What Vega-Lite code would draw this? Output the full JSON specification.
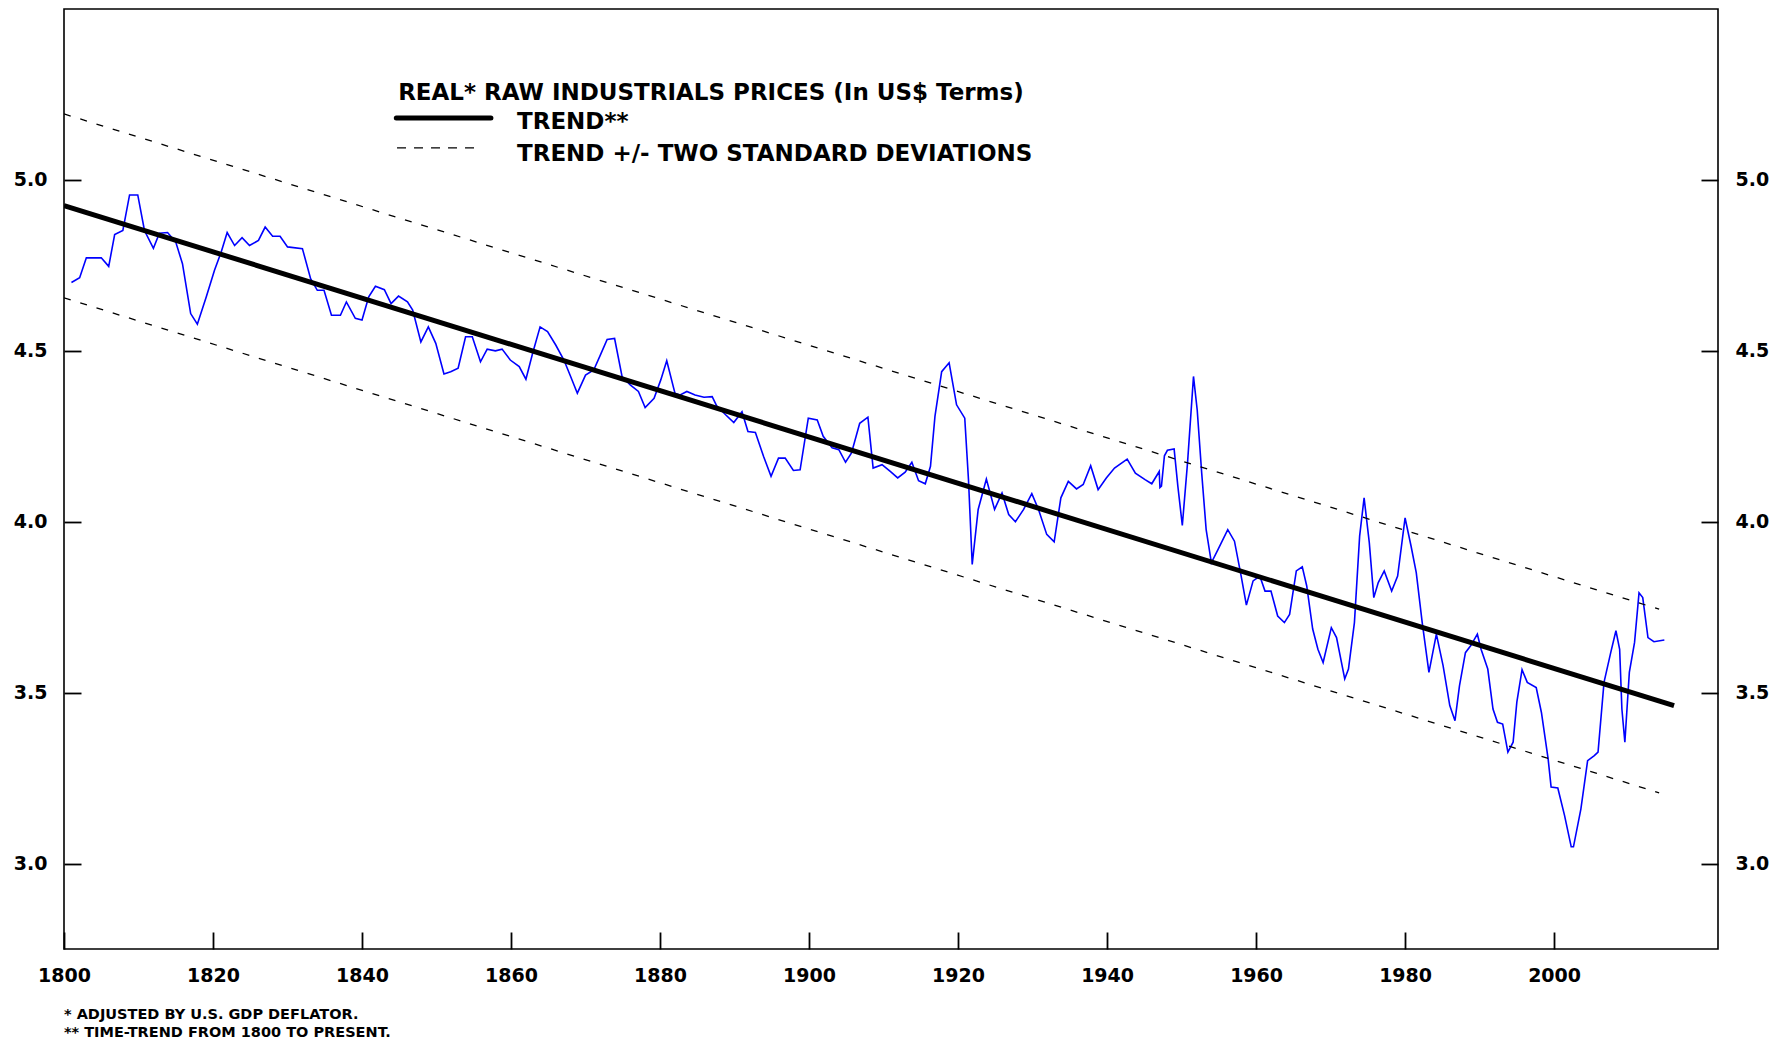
{
  "$schema": "https://vega.github.io/schema/vega-lite/v6.json",
  "width": 1654,
  "height": 940,
  "autosize": {"type": "none"},
  "padding": {"left": 64, "top": 9, "right": 62, "bottom": 92},
  "background": "white",
  "config": {
    "view": {"stroke": "black", "strokeWidth": 1.6},
    "axis": {"domain": false, "grid": false, "ticks": true, "tickSize": 17, "tickWidth": 1.8, "tickColor": "#000000", "tickOpacity": 1, "offset": -17, "labelPadding": 17, "labelFlush": false, "labelFont": "DejaVu Sans", "labelFontWeight": "bold", "labelFontSize": 19, "labelColor": "black", "zindex": 1}
  },
  "title": {
    "text": ["* ADJUSTED BY U.S. GDP DEFLATOR.", "** TIME-TREND FROM 1800 TO PRESENT."],
    "orient": "bottom",
    "anchor": "start",
    "frame": "group",
    "font": "DejaVu Sans",
    "fontSize": 14.5,
    "fontWeight": "bold",
    "color": "black",
    "lineHeight": 17.5,
    "offset": 23
  },
  "datasets": {
    "price": [
      {"year": 1801.0, "value": 4.700}, {"year": 1802.1, "value": 4.714}, {"year": 1803.0, "value": 4.772}, {"year": 1803.9, "value": 4.772},
      {"year": 1805.0, "value": 4.772}, {"year": 1806.0, "value": 4.747}, {"year": 1806.8, "value": 4.840}, {"year": 1807.9, "value": 4.852},
      {"year": 1808.8, "value": 4.956}, {"year": 1809.9, "value": 4.956}, {"year": 1810.8, "value": 4.852}, {"year": 1812.0, "value": 4.800},
      {"year": 1812.8, "value": 4.844}, {"year": 1813.9, "value": 4.846}, {"year": 1815.0, "value": 4.818}, {"year": 1815.9, "value": 4.755},
      {"year": 1817.0, "value": 4.609}, {"year": 1817.9, "value": 4.578}, {"year": 1819.1, "value": 4.658}, {"year": 1820.2, "value": 4.736},
      {"year": 1821.1, "value": 4.789}, {"year": 1821.9, "value": 4.846}, {"year": 1822.9, "value": 4.808}, {"year": 1823.9, "value": 4.831},
      {"year": 1824.9, "value": 4.808}, {"year": 1826.1, "value": 4.823}, {"year": 1827.0, "value": 4.862}, {"year": 1828.0, "value": 4.835},
      {"year": 1829.0, "value": 4.835}, {"year": 1830.0, "value": 4.804}, {"year": 1832.0, "value": 4.799}, {"year": 1833.1, "value": 4.711},
      {"year": 1834.0, "value": 4.677}, {"year": 1834.9, "value": 4.677}, {"year": 1835.9, "value": 4.604}, {"year": 1837.1, "value": 4.604},
      {"year": 1837.9, "value": 4.643}, {"year": 1839.1, "value": 4.595}, {"year": 1840.0, "value": 4.590}, {"year": 1840.9, "value": 4.658},
      {"year": 1841.8, "value": 4.689}, {"year": 1843.0, "value": 4.679}, {"year": 1843.9, "value": 4.638}, {"year": 1844.9, "value": 4.660},
      {"year": 1846.1, "value": 4.643}, {"year": 1846.8, "value": 4.619}, {"year": 1847.9, "value": 4.526}, {"year": 1848.9, "value": 4.570},
      {"year": 1849.9, "value": 4.522}, {"year": 1851.0, "value": 4.432}, {"year": 1851.9, "value": 4.439}, {"year": 1852.9, "value": 4.449},
      {"year": 1853.9, "value": 4.541}, {"year": 1854.8, "value": 4.541}, {"year": 1855.9, "value": 4.468}, {"year": 1856.8, "value": 4.505},
      {"year": 1857.9, "value": 4.500}, {"year": 1858.8, "value": 4.505}, {"year": 1859.9, "value": 4.473}, {"year": 1861.1, "value": 4.454},
      {"year": 1862.0, "value": 4.417}, {"year": 1862.9, "value": 4.493}, {"year": 1863.9, "value": 4.570}, {"year": 1864.9, "value": 4.556},
      {"year": 1866.0, "value": 4.517}, {"year": 1867.1, "value": 4.473}, {"year": 1868.0, "value": 4.425}, {"year": 1868.9, "value": 4.376},
      {"year": 1870.0, "value": 4.429}, {"year": 1871.1, "value": 4.444}, {"year": 1872.0, "value": 4.488}, {"year": 1872.9, "value": 4.533},
      {"year": 1873.9, "value": 4.536}, {"year": 1874.9, "value": 4.425}, {"year": 1876.0, "value": 4.400}, {"year": 1877.1, "value": 4.381},
      {"year": 1878.0, "value": 4.334}, {"year": 1879.2, "value": 4.361}, {"year": 1880.1, "value": 4.415}, {"year": 1880.9, "value": 4.471},
      {"year": 1882.0, "value": 4.376}, {"year": 1882.7, "value": 4.371}, {"year": 1883.6, "value": 4.381}, {"year": 1884.7, "value": 4.371},
      {"year": 1885.9, "value": 4.364}, {"year": 1887.0, "value": 4.366}, {"year": 1887.6, "value": 4.339}, {"year": 1888.8, "value": 4.313},
      {"year": 1889.9, "value": 4.290}, {"year": 1891.0, "value": 4.322}, {"year": 1891.8, "value": 4.264}, {"year": 1892.8, "value": 4.261},
      {"year": 1893.9, "value": 4.191}, {"year": 1894.9, "value": 4.133}, {"year": 1895.9, "value": 4.186}, {"year": 1896.8, "value": 4.186},
      {"year": 1897.9, "value": 4.150}, {"year": 1898.8, "value": 4.152}, {"year": 1899.9, "value": 4.303}, {"year": 1901.1, "value": 4.298},
      {"year": 1901.9, "value": 4.250}, {"year": 1903.1, "value": 4.216}, {"year": 1904.0, "value": 4.211}, {"year": 1904.9, "value": 4.174},
      {"year": 1905.7, "value": 4.201}, {"year": 1906.8, "value": 4.288}, {"year": 1907.9, "value": 4.306}, {"year": 1908.6, "value": 4.157},
      {"year": 1909.8, "value": 4.167}, {"year": 1910.9, "value": 4.147}, {"year": 1911.9, "value": 4.128}, {"year": 1912.9, "value": 4.145},
      {"year": 1913.8, "value": 4.174}, {"year": 1914.7, "value": 4.120}, {"year": 1915.6, "value": 4.111}, {"year": 1916.3, "value": 4.162},
      {"year": 1916.9, "value": 4.308}, {"year": 1917.8, "value": 4.439}, {"year": 1918.8, "value": 4.465}, {"year": 1919.8, "value": 4.342},
      {"year": 1920.9, "value": 4.303}, {"year": 1921.4, "value": 4.123}, {"year": 1921.9, "value": 3.875}, {"year": 1922.7, "value": 4.036},
      {"year": 1923.8, "value": 4.125}, {"year": 1924.9, "value": 4.036}, {"year": 1925.9, "value": 4.084}, {"year": 1926.8, "value": 4.021},
      {"year": 1927.7, "value": 4.000}, {"year": 1928.8, "value": 4.036}, {"year": 1929.9, "value": 4.082}, {"year": 1930.8, "value": 4.036},
      {"year": 1931.9, "value": 3.963}, {"year": 1932.9, "value": 3.941}, {"year": 1933.8, "value": 4.070}, {"year": 1934.8, "value": 4.118},
      {"year": 1935.9, "value": 4.096}, {"year": 1936.8, "value": 4.109}, {"year": 1937.8, "value": 4.164}, {"year": 1938.8, "value": 4.094},
      {"year": 1939.9, "value": 4.128}, {"year": 1941.0, "value": 4.157}, {"year": 1942.7, "value": 4.183}, {"year": 1943.8, "value": 4.142},
      {"year": 1945.1, "value": 4.123}, {"year": 1946.0, "value": 4.111}, {"year": 1947.0, "value": 4.147}, {"year": 1947.1, "value": 4.100},
      {"year": 1947.3, "value": 4.104}, {"year": 1947.7, "value": 4.193}, {"year": 1948.1, "value": 4.209}, {"year": 1949.0, "value": 4.213},
      {"year": 1949.5, "value": 4.104}, {"year": 1950.1, "value": 3.989}, {"year": 1950.8, "value": 4.172}, {"year": 1951.6, "value": 4.425},
      {"year": 1952.1, "value": 4.327}, {"year": 1952.7, "value": 4.143}, {"year": 1953.3, "value": 3.977}, {"year": 1954.0, "value": 3.880},
      {"year": 1954.9, "value": 3.919}, {"year": 1956.2, "value": 3.977}, {"year": 1957.1, "value": 3.943}, {"year": 1958.0, "value": 3.841},
      {"year": 1958.7, "value": 3.756}, {"year": 1959.6, "value": 3.827}, {"year": 1960.5, "value": 3.841}, {"year": 1961.2, "value": 3.797},
      {"year": 1962.0, "value": 3.797}, {"year": 1962.9, "value": 3.724}, {"year": 1963.8, "value": 3.705}, {"year": 1964.5, "value": 3.729},
      {"year": 1965.4, "value": 3.856}, {"year": 1966.2, "value": 3.868}, {"year": 1966.8, "value": 3.812}, {"year": 1967.6, "value": 3.686},
      {"year": 1968.3, "value": 3.627}, {"year": 1969.0, "value": 3.588}, {"year": 1970.1, "value": 3.690}, {"year": 1970.8, "value": 3.661},
      {"year": 1971.9, "value": 3.540}, {"year": 1972.4, "value": 3.569}, {"year": 1973.2, "value": 3.705}, {"year": 1973.9, "value": 3.958},
      {"year": 1974.5, "value": 4.070}, {"year": 1975.2, "value": 3.938}, {"year": 1975.8, "value": 3.778}, {"year": 1976.4, "value": 3.822},
      {"year": 1977.2, "value": 3.856}, {"year": 1978.2, "value": 3.797}, {"year": 1979.0, "value": 3.841}, {"year": 1980.0, "value": 4.011},
      {"year": 1980.8, "value": 3.929}, {"year": 1981.5, "value": 3.851}, {"year": 1982.3, "value": 3.705}, {"year": 1983.2, "value": 3.559},
      {"year": 1984.2, "value": 3.671}, {"year": 1985.1, "value": 3.579}, {"year": 1986.0, "value": 3.462}, {"year": 1986.7, "value": 3.418},
      {"year": 1987.3, "value": 3.520}, {"year": 1988.1, "value": 3.617}, {"year": 1988.8, "value": 3.637}, {"year": 1989.7, "value": 3.671},
      {"year": 1990.2, "value": 3.627}, {"year": 1991.1, "value": 3.569}, {"year": 1991.8, "value": 3.452}, {"year": 1992.4, "value": 3.413},
      {"year": 1993.1, "value": 3.408}, {"year": 1993.8, "value": 3.326}, {"year": 1994.5, "value": 3.355}, {"year": 1995.0, "value": 3.472},
      {"year": 1995.7, "value": 3.567}, {"year": 1996.4, "value": 3.530}, {"year": 1997.6, "value": 3.515}, {"year": 1998.3, "value": 3.442},
      {"year": 1999.2, "value": 3.306}, {"year": 1999.6, "value": 3.224}, {"year": 2000.5, "value": 3.221}, {"year": 2001.4, "value": 3.141},
      {"year": 2002.3, "value": 3.049}, {"year": 2002.6, "value": 3.049}, {"year": 2003.6, "value": 3.160}, {"year": 2004.5, "value": 3.301},
      {"year": 2005.4, "value": 3.316}, {"year": 2005.9, "value": 3.326}, {"year": 2006.7, "value": 3.530}, {"year": 2007.6, "value": 3.617},
      {"year": 2008.3, "value": 3.681}, {"year": 2008.8, "value": 3.627}, {"year": 2009.1, "value": 3.452}, {"year": 2009.5, "value": 3.355},
      {"year": 2010.1, "value": 3.559}, {"year": 2010.8, "value": 3.647}, {"year": 2011.4, "value": 3.792}, {"year": 2011.9, "value": 3.778},
      {"year": 2012.6, "value": 3.661}, {"year": 2013.4, "value": 3.649}, {"year": 2014.8, "value": 3.654}
    ],
    "trend": [
      {"year": 1800, "value": 4.925},
      {"year": 2016.1, "value": 3.462}
    ],
    "bands": [
      {"band": "upper", "year": 1800, "value": 5.193},
      {"band": "upper", "year": 2014.1, "value": 3.744},
      {"band": "lower", "year": 1800, "value": 4.655},
      {"band": "lower", "year": 2014.1, "value": 3.207}
    ],
    "legendSolid": [
      {"year": 1844.6, "value": 5.181},
      {"year": 1857.3, "value": 5.181}
    ],
    "legendDash": [
      {"year": 1844.7, "value": 5.094},
      {"year": 1856.0, "value": 5.094}
    ],
    "labels": [
      {"year": 1844.85, "value": 5.2337, "label": "REAL* RAW INDUSTRIALS PRICES (In US$ Terms)"},
      {"year": 1860.8, "value": 5.149, "label": "TREND**"},
      {"year": 1860.8, "value": 5.0566, "label": "TREND +/- TWO STANDARD DEVIATIONS"}
    ]
  },
  "layer": [
    {
      "data": {"name": "price"},
      "mark": {"type": "line", "color": "#0000FF", "strokeWidth": 1.6, "clip": true},
      "encoding": {
        "x": {"field": "year", "type": "quantitative", "scale": {"domain": [1800, 2022], "nice": false, "zero": false},
              "axis": {"values": [1800, 1820, 1840, 1860, 1880, 1900, 1920, 1940, 1960, 1980, 2000], "format": "d", "title": null}},
        "y": {"field": "value", "type": "quantitative", "scale": {"domain": [2.75, 5.5], "nice": false, "zero": false},
              "axis": {"orient": "left", "values": [3.0, 3.5, 4.0, 4.5, 5.0], "format": ".1f", "title": null}}
      }
    },
    {
      "data": {"name": "bands"},
      "mark": {"type": "line", "color": "black", "strokeWidth": 1.3, "strokeDash": [7, 10], "clip": true},
      "encoding": {
        "x": {"field": "year", "type": "quantitative", "scale": {"domain": [1800, 2022], "nice": false, "zero": false},
              "axis": {"values": [1800, 1820, 1840, 1860, 1880, 1900, 1920, 1940, 1960, 1980, 2000], "format": "d", "title": null}},
        "y": {"field": "value", "type": "quantitative", "scale": {"domain": [2.75, 5.5], "nice": false, "zero": false}, "axis": null},
        "detail": {"field": "band", "type": "nominal"}
      }
    },
    {
      "data": {"name": "trend"},
      "mark": {"type": "line", "color": "black", "strokeWidth": 5, "clip": true},
      "encoding": {
        "x": {"field": "year", "type": "quantitative", "scale": {"domain": [1800, 2022], "nice": false, "zero": false},
              "axis": {"values": [1800, 1820, 1840, 1860, 1880, 1900, 1920, 1940, 1960, 1980, 2000], "format": "d", "title": null}},
        "y": {"field": "value", "type": "quantitative", "scale": {"domain": [2.75, 5.5], "nice": false, "zero": false},
              "axis": {"orient": "right", "values": [3.0, 3.5, 4.0, 4.5, 5.0], "format": ".1f", "title": null}}
      }
    },
    {
      "data": {"name": "legendSolid"},
      "mark": {"type": "line", "color": "black", "strokeWidth": 5, "strokeCap": "round"},
      "encoding": {
        "x": {"field": "year", "type": "quantitative", "scale": {"domain": [1800, 2022], "nice": false, "zero": false},
              "axis": {"values": [1800, 1820, 1840, 1860, 1880, 1900, 1920, 1940, 1960, 1980, 2000], "format": "d", "title": null}},
        "y": {"field": "value", "type": "quantitative", "scale": {"domain": [2.75, 5.5], "nice": false, "zero": false}, "axis": null}
      }
    },
    {
      "data": {"name": "legendDash"},
      "mark": {"type": "line", "color": "black", "strokeWidth": 1.3, "strokeDash": [9, 8]},
      "encoding": {
        "x": {"field": "year", "type": "quantitative", "scale": {"domain": [1800, 2022], "nice": false, "zero": false},
              "axis": {"values": [1800, 1820, 1840, 1860, 1880, 1900, 1920, 1940, 1960, 1980, 2000], "format": "d", "title": null}},
        "y": {"field": "value", "type": "quantitative", "scale": {"domain": [2.75, 5.5], "nice": false, "zero": false}, "axis": null}
      }
    },
    {
      "data": {"name": "labels"},
      "mark": {"type": "text", "align": "left", "baseline": "alphabetic", "font": "DejaVu Sans", "fontWeight": "bold", "fontSize": 23, "color": "black"},
      "encoding": {
        "x": {"field": "year", "type": "quantitative", "scale": {"domain": [1800, 2022], "nice": false, "zero": false},
              "axis": {"values": [1800, 1820, 1840, 1860, 1880, 1900, 1920, 1940, 1960, 1980, 2000], "format": "d", "title": null}},
        "y": {"field": "value", "type": "quantitative", "scale": {"domain": [2.75, 5.5], "nice": false, "zero": false}, "axis": null},
        "text": {"field": "label", "type": "nominal"}
      }
    }
  ],
  "resolve": {"axis": {"y": "independent"}}
}
